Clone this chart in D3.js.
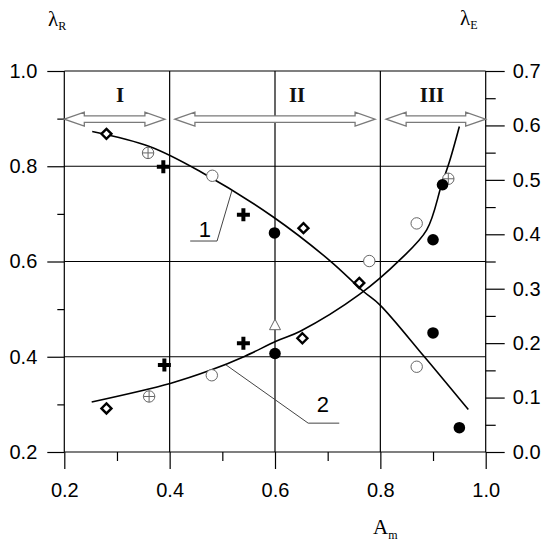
<!DOCTYPE html>
<html>
<head>
<meta charset="utf-8">
<script src="https://cdn.jsdelivr.net/npm/d3@7"></script>
<style>
  body { margin: 0; background: #fff; }
  svg { display: block; }
</style>
</head>
<body>
<svg></svg>
<script>
// curve 1: lambda_R (left axis), curve 2: lambda_E (right axis)
const curve1 = [[0.253,0.873],[0.363,0.841],[0.458,0.789],[0.596,0.694],[0.705,0.601],[0.768,0.537],[0.799,0.509],[0.882,0.402],[0.967,0.289]];
const curve2 = [[0.252,0.092],[0.401,0.126],[0.477,0.150],[0.543,0.176],[0.603,0.204],[0.648,0.222],[0.761,0.290],[0.837,0.353],[0.888,0.408],[0.916,0.490],[0.932,0.536],[0.950,0.598]];

// markers on the lambda_R curve (left axis)
const diamondsR = [[0.280,0.868],[0.654,0.670],[0.760,0.555]];
const crossCirclesR = [[0.359,0.828]];
const openCirclesR = [[0.481,0.780],[0.779,0.601],[0.869,0.379]];
const plusesR = [[0.388,0.799],[0.540,0.698]];
const dotsR = [[0.599,0.660],[0.900,0.450],[0.950,0.251]];

// markers on the lambda_E curve (right axis)
const diamondsE = [[0.280,0.080],[0.652,0.209]];
const crossCirclesE = [[0.361,0.102],[0.929,0.502]];
const openCirclesE = [[0.480,0.141],[0.869,0.420]];
const plusesE = [[0.390,0.160],[0.540,0.200]];
const dotsE = [[0.600,0.181],[0.900,0.390],[0.918,0.491]];
const trianglesE = [[0.600,0.233]];

// regions
const regionLabels = ["I", "II", "III"];
const regionStart = [0.2, 0.41, 0.811];
const regionEnd = [0.391, 0.79, 1.0];
const regionLabelX = [0.306, 0.642, 0.898];

const xTicks = [0.2, 0.4, 0.6, 0.8, 1.0];
const xMinor = [0.3, 0.5, 0.7, 0.9];
const yLTicks = [0.2, 0.4, 0.6, 0.8, 1.0];
const yLMinor = [0.3, 0.5, 0.7, 0.9];
const yRTicks = [0, 0.1, 0.2, 0.3, 0.4, 0.5, 0.6, 0.7];
const yRMinor = [0.05, 0.15, 0.25, 0.35, 0.45, 0.55, 0.65];

const svg = d3.select("svg")
    .attr("width", 550)
    .attr("height", 548);

const x = d3.scaleLinear().domain([0.2, 1.0]).range([64.3, 485.7]);
const yL = d3.scaleLinear().domain([0.2, 1.0]).range([452, 71]);
const yR = d3.scaleLinear().domain([0, 0.7]).range([452, 71]);

const font = "'Liberation Sans', Arial, sans-serif";
const serif = "'Liberation Serif', 'Times New Roman', serif";

// grid
const grid = svg.append("g").attr("stroke", "#000").attr("stroke-width", 1.2);
grid.selectAll(".h").data(yLTicks).enter().append("line")
    .attr("x1", x(0.2)).attr("x2", x(1.0))
    .attr("y1", d => yL(d)).attr("y2", d => yL(d));
grid.selectAll(".v").data(xTicks).enter().append("line")
    .attr("x1", d => x(d)).attr("x2", d => x(d))
    .attr("y1", yL(1.0)).attr("y2", yL(0.2));

function styleAxis(g) {
  g.select(".domain").remove();
  g.selectAll("line").attr("stroke", "#000").attr("stroke-width", 1.2);
  g.selectAll("text").attr("font-family", font).attr("font-size", 20).attr("fill", "#000");
}

svg.append("g").attr("transform", `translate(${x(0.2)},0)`)
    .call(d3.axisLeft(yL).tickValues(yLTicks).tickFormat(d3.format(".1f")).tickSize(17).tickPadding(10))
    .call(styleAxis);
svg.append("g").attr("transform", `translate(${x(0.2)},0)`)
    .call(d3.axisLeft(yL).tickValues(yLMinor).tickFormat("").tickSize(7))
    .call(styleAxis);

svg.append("g").attr("transform", `translate(0,${yL(0.2)})`)
    .call(d3.axisBottom(x).tickValues(xTicks).tickFormat(d3.format(".1f")).tickSize(17).tickPadding(14))
    .call(styleAxis);
svg.append("g").attr("transform", `translate(0,${yL(0.2)})`)
    .call(d3.axisBottom(x).tickValues(xMinor).tickFormat("").tickSize(9))
    .call(styleAxis);

svg.append("g").attr("transform", `translate(${x(1.0)},0)`)
    .call(d3.axisRight(yR).tickValues(yRTicks).tickFormat(d3.format(".1f")).tickSize(19).tickPadding(8))
    .call(styleAxis);
svg.append("g").attr("transform", `translate(${x(1.0)},0)`)
    .call(d3.axisRight(yR).tickValues(yRMinor).tickFormat("").tickSize(10))
    .call(styleAxis);

// axis titles
function lambdaLabel(px, py, sub) {
  const t = svg.append("text").attr("x", px).attr("y", py)
      .attr("font-family", serif).attr("font-size", 21).attr("fill", "#000");
  t.append("tspan").text("λ");
  t.append("tspan").attr("font-size", 12).attr("dy", 4).text(sub);
}
lambdaLabel(48, 26, "R");
lambdaLabel(460, 25, "E");
const am = svg.append("text").attr("x", 373).attr("y", 534)
    .attr("font-family", serif).attr("font-size", 21).attr("fill", "#000");
am.append("tspan").text("A");
am.append("tspan").attr("font-size", 12).attr("dy", 5).text("m");

// region arrows
const hl = 20, hh = 7, sh = 3.2;
const arrowY = yL(0.9) + 0.5;
svg.append("g").selectAll("path").data(regionLabels).enter().append("path")
    .attr("d", (d, i) => {
      const a = x(regionStart[i]), b = x(regionEnd[i]), y = arrowY;
      return `M${a},${y} L${a + hl},${y - hh} L${a + hl},${y - sh} L${b - hl},${y - sh} L${b - hl},${y - hh} L${b},${y} ` +
             `L${b - hl},${y + hh} L${b - hl},${y + sh} L${a + hl},${y + sh} L${a + hl},${y + hh} Z`;
    })
    .attr("fill", "#fff").attr("stroke", "#7a7a7a").attr("stroke-width", 1.3);

svg.append("g").selectAll("text").data(regionLabels).enter().append("text")
    .attr("x", (d, i) => x(regionLabelX[i]))
    .attr("y", yL(0.95) + 7)
    .attr("text-anchor", "middle")
    .attr("font-family", serif).attr("font-weight", "bold").attr("font-size", 21)
    .attr("fill", "#111")
    .text(d => d);

// curves
const line1 = d3.line().x(d => x(d[0])).y(d => yL(d[1])).curve(d3.curveCatmullRom);
const line2 = d3.line().x(d => x(d[0])).y(d => yR(d[1])).curve(d3.curveCatmullRom);
svg.append("path").datum(curve1).attr("d", line1)
    .attr("fill", "none").attr("stroke", "#000").attr("stroke-width", 1.6);
svg.append("path").datum(curve2).attr("d", line2)
    .attr("fill", "none").attr("stroke", "#000").attr("stroke-width", 1.6);

// leader lines + curve numbers
const leader1 = [[0.439,0.643],[0.490,0.643],[0.518,0.748]];
const leader2 = [[0.507,0.160],[0.663,0.053],[0.722,0.053]];
svg.append("path").datum(leader1)
    .attr("d", d3.line().x(d => x(d[0])).y(d => yL(d[1])))
    .attr("fill", "none").attr("stroke", "#444").attr("stroke-width", 1);
svg.append("path").datum(leader2)
    .attr("d", d3.line().x(d => x(d[0])).y(d => yR(d[1])))
    .attr("fill", "none").attr("stroke", "#444").attr("stroke-width", 1);
svg.append("text").attr("x", x(0.467)).attr("y", yL(0.652))
    .attr("text-anchor", "middle").attr("font-family", font).attr("font-size", 22).text("1");
svg.append("text").attr("x", x(0.691)).attr("y", yR(0.074))
    .attr("text-anchor", "middle").attr("font-family", font).attr("font-size", 22).text("2");

// markers
const markers = svg.append("g");
function pos(data, ys) { return data.map(d => [x(d[0]), ys(d[1])]); }

function diamonds(pts) {
  markers.selectAll(null).data(pts).enter().append("path")
      .attr("d", d => `M${d[0]},${d[1] - 5} L${d[0] + 5},${d[1]} L${d[0]},${d[1] + 5} L${d[0] - 5},${d[1]} Z`)
      .attr("fill", "#fff").attr("stroke", "#000").attr("stroke-width", 2.4);
}
function openCircles(pts) {
  markers.selectAll(null).data(pts).enter().append("circle")
      .attr("cx", d => d[0]).attr("cy", d => d[1]).attr("r", 5.7)
      .attr("fill", "#fff").attr("stroke", "#666").attr("stroke-width", 1);
}
function crossCircles(pts) {
  openCircles(pts);
  markers.selectAll(null).data(pts).enter().append("path")
      .attr("d", d => `M${d[0] - 5.7},${d[1]} H${d[0] + 5.7} M${d[0]},${d[1] - 5.7} V${d[1] + 5.7}`)
      .attr("stroke", "#666").attr("stroke-width", 1);
}
function pluses(pts) {
  markers.selectAll(null).data(pts).enter().append("path")
      .attr("d", d => `M${d[0] - 6.5},${d[1]} H${d[0] + 6.5} M${d[0]},${d[1] - 6.5} V${d[1] + 6.5}`)
      .attr("stroke", "#000").attr("stroke-width", 4);
}
function dots(pts) {
  markers.selectAll(null).data(pts).enter().append("circle")
      .attr("cx", d => d[0]).attr("cy", d => d[1]).attr("r", 5.8)
      .attr("fill", "#000");
}
function triangles(pts) {
  markers.selectAll(null).data(pts).enter().append("path")
      .attr("d", d => `M${d[0]},${d[1] - 6} L${d[0] + 5.5},${d[1] + 4.5} L${d[0] - 5.5},${d[1] + 4.5} Z`)
      .attr("fill", "#fff").attr("stroke", "#666").attr("stroke-width", 1);
}

diamonds(pos(diamondsR, yL));
diamonds(pos(diamondsE, yR));
crossCircles(pos(crossCirclesR, yL));
crossCircles(pos(crossCirclesE, yR));
openCircles(pos(openCirclesR, yL));
openCircles(pos(openCirclesE, yR));
pluses(pos(plusesR, yL));
pluses(pos(plusesE, yR));
dots(pos(dotsR, yL));
dots(pos(dotsE, yR));
triangles(pos(trianglesE, yR));
</script>
</body>
</html>
